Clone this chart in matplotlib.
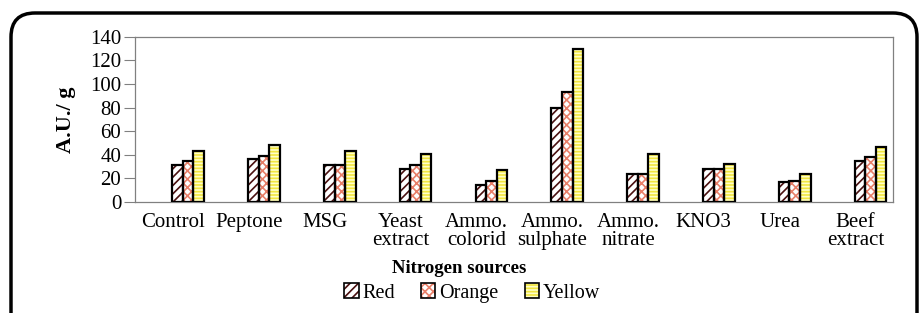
import numpy as np
import matplotlib
matplotlib.use("Agg")
import matplotlib.pyplot as plt
from matplotlib.patches import Patch, FancyBboxPatch
from matplotlib.legend_handler import HandlerTuple
from matplotlib.transforms import IdentityTransform

plt.rcParams['font.family'] = ['Liberation Serif', 'DejaVu Serif']
plt.rcParams['hatch.linewidth'] = 1.2

# data
sources = ["Control", "Peptone", "MSG", "Yeast\nextract", "Ammo.\ncolorid",
           "Ammo.\nsulphate", "Ammo.\nnitrate", "KNO3", "Urea", "Beef\nextract"]
red = [31, 36, 31, 28, 14, 80, 24, 27.5, 17, 35]
orange = [34.5, 39, 31, 31, 17.5, 93.5, 24, 27.5, 17.5, 38.5]
yellow = [43, 48, 43, 40.5, 27, 130, 40.5, 32, 24, 46.5]
series = ["Red", "Orange", "Yellow"]

# (face, hatch colour, hatch)
styles = [("white", "#4a1010", "////"),
          ("white", "#e8806a", "xxxx"),
          ("#ffffc8", "#f2e640", "-----")]

fig = plt.figure(figsize=(9.19, 3.13), dpi=100)
ax = fig.add_axes([0.147, 0.355, 0.825, 0.527])

x = np.arange(len(sources))
w = 0.139
shift = 0.2   # groups sit a little right of the category centre, as in the original
for j, vals in enumerate([red, orange, yellow]):
    face, hc, hatch = styles[j]
    pos = x + shift + (j - 1) * w
    ax.bar(pos, vals, w, color=face, edgecolor=hc, hatch=hatch, lw=0, zorder=2)
    ax.bar(pos, vals, w, fill=False, edgecolor="black", lw=1.6, zorder=3)

ax.set_xlim(-0.5, 9.5)
ax.set_ylim(0, 140)
ax.set_yticks(range(0, 141, 20))
ax.set_xticks(x, sources, fontsize=15, linespacing=0.9)
ax.tick_params(axis='x', length=0, pad=8)
ax.tick_params(axis='y', length=8, width=0.8, color="#808080", labelsize=15, pad=2)
for s in ax.spines.values():
    s.set_color("#808080")
    s.set_linewidth(0.9)

ax.set_ylabel("A.U./ g", fontsize=16, fontweight='bold', labelpad=10)
fig.text(0.5, 0.143, "Nitrogen sources", ha='center', va='center',
         fontsize=13.5, fontweight='bold')

handles = []
for face, hc, hatch in styles:
    handles.append((Patch(facecolor=face, edgecolor=hc, hatch=hatch, lw=0),
                    Patch(fill=False, edgecolor="black", lw=1.2)))
fig.legend(handles, series, loc='center', bbox_to_anchor=(0.514, 0.064), ncol=3,
           frameon=False, fontsize=14.5, handlelength=0.7, handleheight=0.7,
           handletextpad=0.2, columnspacing=1.3, borderpad=0,
           handler_map={tuple: HandlerTuple(ndivide=1, pad=0)})

frame = FancyBboxPatch((11, -40), 906, 340, boxstyle="round,pad=0,rounding_size=24",
                       transform=IdentityTransform(), fill=False,
                       edgecolor="black", lw=2.5)
fig.add_artist(frame)

fig.savefig("out.png", dpi=100)
